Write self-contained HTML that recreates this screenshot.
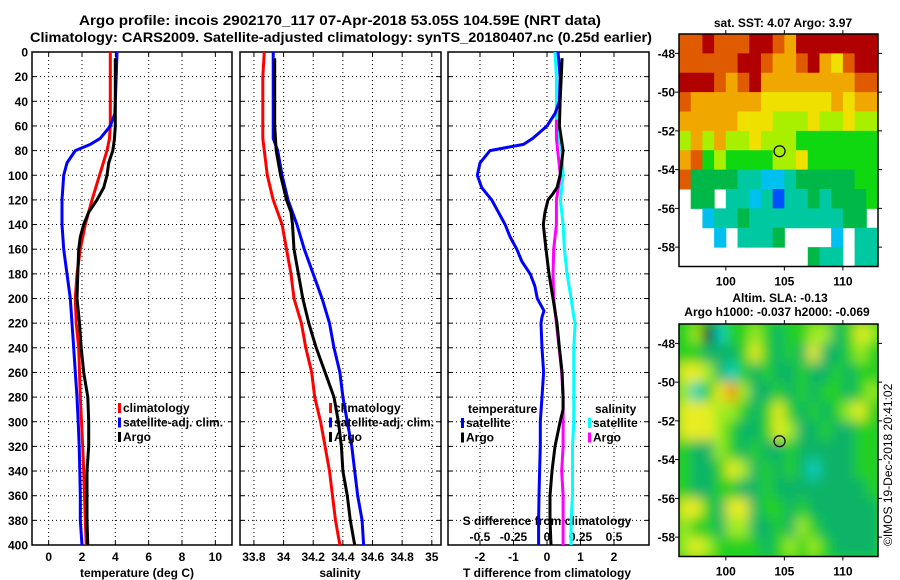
<!DOCTYPE html>
<html><head><meta charset="utf-8"><style>
html,body{margin:0;padding:0;background:#fff;}
svg{display:block;font-family:"Liberation Sans",Arial,sans-serif;font-weight:bold;}
</style></head><body>
<svg id="chart" xmlns="http://www.w3.org/2000/svg" width="900" height="580" viewBox="0 0 900 580">
<defs>
<clipPath id="clipMap1"><rect x="679" y="34" width="199" height="232"/></clipPath>
<clipPath id="clipMap2"><rect x="679" y="324" width="199" height="233"/></clipPath>
<filter id="blurSla" x="-0.2" y="-0.2" width="1.4" height="1.4"><feGaussianBlur stdDeviation="6"/></filter>
</defs>
<text x="340" y="25" font-size="14" text-anchor="middle" textLength="522" lengthAdjust="spacingAndGlyphs">Argo profile: incois 2902170_117 07-Apr-2018 53.05S 104.59E (NRT data)</text>
<text x="341" y="42" font-size="14" text-anchor="middle" textLength="622" lengthAdjust="spacingAndGlyphs">Climatology: CARS2009. Satellite-adjusted climatology: synTS_20180407.nc (0.25d earlier)</text>
<text x="783" y="27" font-size="12" text-anchor="middle">sat. SST: 4.07 Argo: 3.97</text>
<text x="780" y="302" font-size="12" text-anchor="middle">Altim. SLA: -0.13</text>
<text x="777" y="316" font-size="12" text-anchor="middle">Argo h1000: -0.037 h2000: -0.069</text>
<text transform="translate(892,546) rotate(-90)" font-size="12" font-weight="normal">©IMOS 19-Dec-2018 20:41:02</text>
<g id="layer"></g>
</svg>
<script>
// ---------- data ----------
const depthTicks = [0,20,40,60,80,100,120,140,160,180,200,220,240,260,280,300,320,340,360,380,400];
const tempTicks = [0,2,4,6,8,10];
const salTicks = [33.8,34,34.2,34.4,34.6,34.8,35];
const salTickLabels = ["33.8","34","34.2","34.4","34.6","34.8","35"];
const tdiffTicks = [-2,-1,0,1,2];
const sdiffTicks = [-0.5,-0.25,0,0.25,0.5];
const sdiffTickLabels = ["-0.5","-0.25","0","0.25","0.5"];
const latTicks = [-48,-50,-52,-54,-56,-58];
const lonTicks = [100,105,110];

const climDepth = [0,20,40,60,70,80,100,120,140,160,180,200,220,240,260,280,300,320,340,360,380,400];
const climTemp  = [3.7,3.7,3.7,3.7,3.65,3.5,3.05,2.6,2.2,1.9,1.7,1.6,1.65,1.8,1.85,1.9,1.97,2.04,2.1,2.15,2.2,2.25];
const climSal   = [33.87,33.86,33.86,33.86,33.86,33.87,33.89,33.93,33.99,34.02,34.05,34.07,34.12,34.15,34.19,34.21,34.25,34.28,34.31,34.33,34.35,34.38];

const satDepth = [0,20,40,50,60,70,75,80,90,100,120,140,160,180,200,220,240,260,280,300,320,340,360,380,400];
const satTemp  = [4.1,4.05,4.0,3.97,3.7,3.1,2.5,1.6,1.1,0.9,0.8,0.8,0.9,1.1,1.3,1.4,1.5,1.6,1.7,1.77,1.83,1.87,1.9,1.9,2.0];
const satSalDepth = [0,20,40,60,70,80,100,120,140,160,180,200,220,240,260,280,300,320,340,360,380,400];
const satSal   = [33.93,33.93,33.93,33.93,33.93,33.96,33.99,34.03,34.09,34.14,34.2,34.26,34.31,34.34,34.38,34.4,34.43,34.46,34.48,34.5,34.53,34.54];

const argoDepth = [5,60,70,80,90,100,110,120,130,140,150,160,180,200,220,240,260,280,300,320,340,360,380,400];
const argoTemp  = [4.0,4.0,3.95,3.85,3.6,3.5,3.3,2.9,2.4,2.1,1.9,1.8,1.75,1.7,1.85,1.95,2.1,2.35,2.4,2.4,2.3,2.3,2.3,2.35];
const argoSalDepth = [5,60,80,100,120,130,140,160,180,200,220,240,260,280,300,320,340,360,380,400];
const argoSal   = [33.94,33.94,33.95,33.98,34.02,34.05,34.06,34.07,34.1,34.13,34.17,34.22,34.28,34.34,34.37,34.39,34.4,34.43,34.45,34.48];

const dTsatDepth = [0,20,40,50,60,70,75,80,90,100,110,120,130,140,150,160,170,180,190,200,210,215,220,240,260,280,300,320,340,360,380,400];
const dTsat      = [0.33,0.39,0.37,0.24,0,-0.42,-0.7,-1.7,-2.0,-2.08,-1.95,-1.65,-1.45,-1.25,-1.1,-0.9,-0.75,-0.5,-0.36,-0.29,-0.09,-0.15,-0.18,-0.15,-0.1,-0.15,-0.2,-0.2,-0.22,-0.24,-0.25,-0.25];
const dTargoDepth = [5,40,60,80,100,110,115,120,130,140,160,180,200,220,240,260,280,290,300,320,340,360,380,400];
const dTargo      = [0.45,0.39,0.37,0.48,0.39,0.3,0.18,0.03,-0.06,-0.11,-0.03,0.06,0.18,0.3,0.37,0.45,0.48,0.48,0.39,0.24,0.15,0.09,0.09,0.12];
const dSsatDepth = [0,20,40,60,80,100,120,140,160,180,200,215,220,240,260,280,300,320,340,360,380,400];
const dSsat      = [0.06,0.07,0.07,0.07,0.11,0.12,0.1,0.12,0.13,0.15,0.18,0.2,0.21,0.2,0.2,0.2,0.2,0.19,0.19,0.19,0.18,0.18];
const dSargoDepth = [55,70,80,100,120,140,160,180,200,220,240,260,280,300,320,340,360,380,400];
const dSargo      = [0.07,0.07,0.08,0.1,0.07,0.07,0.05,0.045,0.05,0.07,0.09,0.11,0.12,0.12,0.12,0.11,0.12,0.12,0.12];

// SST map rows (1 deg cells, lat -47 → -59, lon 96 → 113)
const sstRows = [
"oorooorroarrrrrrr",
"ooooorroaaorayorr",
"rrroaoraaaaaaaaoo",
"oaaaaaayyyyyyayaa",
"aaaaayyylllyllyll",
"lalallylllggggggg",
"aoglggggllygggggg",
"oGGGGttcctGGGGGgg",
".GG.ttctbttGtGGGg",
"..cttGttttttttGG.",
"...c.tttG....c.tt",
"...........Gtt.tt"];
// SLA map rows
const slaRows = [
"gltcgglgTggllTgyl",
"ggTTTgygTgTyTTglg",
"yylTcgTgTTgTTgTgg",
"lcgyolTTgTgTggTgl",
"yyyllgTgygTgTglyg",
"yyylgTTgylTTgTTgg",
"gTTlgTgTTgTTTTTgg",
"gTTgylTgTgTcTTTgg",
"gTTggTTgTTTTTTTTg",
"yygTyyTggTgTTTTTT",
"lggTllTTgTlgTTTTT",
"lylggggTglglgTTTT"];
const floatLon = [104.59];
const floatLat = [-53.05];

// ---------- helpers ----------
const NS = "http://www.w3.org/2000/svg";
const layer = document.getElementById('layer');
function mk(tag, attrs, parent){ const e=document.createElementNS(NS,tag); for(const k in attrs) e.setAttribute(k,attrs[k]); (parent||layer).appendChild(e); return e; }
function txt(s,x,y,anchor,size,name,parent){ const t=mk('text',{x:x,y:y,'text-anchor':anchor,'font-size':size},parent); t.textContent=s;
  
  
  return t; }

const Y0=52, Y1=545;
function yD(d){ return Y0 + (d/400)*(Y1-Y0); }
function lin(d0,d1,r0,r1){ return v => r0 + (v-d0)/(d1-d0)*(r1-r0); }

const panels = [
  {name:'temperature-panel', x0:32, x1:232, f:lin(-1,11,32,232)},
  {name:'salinity-panel', x0:240, x1:441, f:lin(33.706,35.062,240,441)},
  {name:'difference-panel', x0:448, x1:649, f:lin(-2.955,3.045,448,649)}
];
const xS = lin(-0.73875,0.76125,448,649);

function frame(p, ticks, tickLabels){
  const g = mk('g',{});
  
  
  depthTicks.forEach(d=>{ const y=yD(d);
    if(d>0&&d<400){ const l=mk('line',{x1:p.x0,x2:p.x1,y1:y,y2:y,stroke:'#000','stroke-width':1,'stroke-dasharray':'1,3'},g);
        }
    mk('line',{x1:p.x0,x2:p.x0+4,y1:y,y2:y,stroke:'#000'},g);
    mk('line',{x1:p.x1-4,x2:p.x1,y1:y,y2:y,stroke:'#000'},g);
  });
  ticks.forEach((v,i)=>{ const x=p.f(v);
    const l=mk('line',{x1:x,x2:x,y1:Y0,y2:Y1,stroke:'#000','stroke-width':1,'stroke-dasharray':'1,3'},g);
     
    mk('line',{x1:x,x2:x,y1:Y1-4,y2:Y1,stroke:'#000'},g);
    mk('line',{x1:x,x2:x,y1:Y0,y2:Y0+4,stroke:'#000'},g);
    txt(tickLabels[i],x,561,'middle',12,'x-tick-label',g);
  });
  const r=mk('rect',{x:p.x0,y:Y0,width:p.x1-p.x0,height:Y1-Y0,fill:'none',stroke:'#000','stroke-width':1.5},g);
   
  return g;
}
function profile(depths, vals, fx, color, name){
  let dstr='';
  for(let i=0;i<depths.length;i++){ dstr += (i?'L':'M') + fx(vals[i]).toFixed(1) + ',' + yD(depths[i]).toFixed(1); }
  const p = mk('path',{d:dstr,fill:'none',stroke:color,'stroke-width':3,'stroke-linejoin':'round'});
  
  
}
function legend(items, x, y){
  items.forEach((it,i)=>{
    const yy=y+i*14.5;
    const m=mk('rect',{x:x,y:yy-9,width:3,height:10,fill:it[1]});
     
    txt(it[0],x+5,yy,'start',12,'legend-entry');
  });
}

depthTicks.forEach(d=>txt(String(d),28,yD(d)+4.5,'end',12,'depth-tick-label'));

frame(panels[0], tempTicks, tempTicks.map(String));
frame(panels[1], salTicks, salTickLabels);
frame(panels[2], tdiffTicks, tdiffTicks.map(String));
txt('temperature (deg C)',137,577,'middle',12,'temperature-axis-title');
txt('salinity',340,577,'middle',12,'salinity-axis-title');
txt('T difference from climatology',547,577,'middle',12,'t-difference-axis-title');
txt('S difference from climatology',547,525,'middle',12,'s-difference-axis-title');
sdiffTicks.forEach((v,i)=>txt(sdiffTickLabels[i],xS(v),541,'middle',12,'s-difference-tick-label'));

const fT=panels[0].f, fS=panels[1].f, fD=panels[2].f;
profile(climDepth, climTemp, fT, '#ff0000', 'climatology-temperature-line');
profile(satDepth, satTemp, fT, '#0000ff', 'satellite-temperature-line');
profile(argoDepth, argoTemp, fT, '#000000', 'argo-temperature-line');
profile(climDepth, climSal, fS, '#ff0000', 'climatology-salinity-line');
profile(satSalDepth, satSal, fS, '#0000ff', 'satellite-salinity-line');
profile(argoSalDepth, argoSal, fS, '#000000', 'argo-salinity-line');
profile(dSsatDepth, dSsat, xS, '#00ffff', 'satellite-s-difference-line');
profile(dSargoDepth, dSargo, xS, '#ff00ff', 'argo-s-difference-line');
profile(dTsatDepth, dTsat, fD, '#0000ff', 'satellite-t-difference-line');
profile(dTargoDepth, dTargo, fD, '#000000', 'argo-t-difference-line');

legend([['climatology','#ff0000'],['satellite-adj. clim.','#0000ff'],['Argo','#000000']],118,412);
legend([['climatology','#ff0000'],['satellite-adj. clim.','#0000ff'],['Argo','#000000']],329,412);
txt('temperature',468,413,'start',12,'t-legend-title');
legend([['satellite','#0000ff'],['Argo','#000000']],461,427);
txt('salinity',595,413,'start',12,'s-legend-title');
legend([['satellite','#00ffff'],['Argo','#ff00ff']],588,427);

const sstColors={r:'#b00000',o:'#e05a00',a:'#f0a800',y:'#f0e000',l:'#a8f000',g:'#10d810',G:'#00b848',t:'#00c8a0',c:'#00c0f0',b:'#0050ff'};
const slaColors={g:'#20d020',T:'#10b468',c:'#10d0c0',l:'#a0ec20',y:'#e8ec20',o:'#f09000'};
function drawMap(top, rows, colors, clipId, name, blur){
  const bot = top + 232.5;
  const fx = lin(96,113,679,878), fy = lin(-47,-59,top,bot);
  const g = mk('g',{'clip-path':'url(#'+clipId+')'});
  
  
  const cg = mk('g', blur?{filter:'url(#blurSla)'}:{}, g);
  if(blur) mk('rect',{x:660,y:top-20,width:240,height:273,fill:colors.g},cg);
  rows.forEach((row,ri)=>{
    for(let ci=0;ci<row.length;ci++){
      const c=row[ci]; if(c==='.') continue;
      const x=fx(96+ci), y=fy(-47-ri);
      const r=mk('rect',{x:x,y:y,width:fx(97+ci)-x+0.5,height:fy(-48-ri)-y+0.5,fill:colors[c]},cg);
      
      
    }
  });
  const mc=mk('circle',{cx:fx(floatLon[0]),cy:fy(floatLat[0]),r:5.5,fill:'none',stroke:'#000','stroke-width':1.2});
   
  const fr=mk('rect',{x:679,y:top,width:199,height:bot-top,fill:'none',stroke:'#000','stroke-width':1.5});
   
  latTicks.forEach(v=>{ const y=fy(v);
    mk('line',{x1:675,x2:679,y1:y,y2:y,stroke:'#000'}); mk('line',{x1:878,x2:882,y1:y,y2:y,stroke:'#000'});
    txt(String(v),675,y+4.5,'end',12,'latitude-tick-label'); });
  lonTicks.forEach(v=>{ const x=fx(v);
    mk('line',{x1:x,x2:x,y1:top-4,y2:top,stroke:'#000'}); mk('line',{x1:x,x2:x,y1:bot,y2:bot+4,stroke:'#000'});
    txt(String(v),x,bot+19,'middle',12,'longitude-tick-label'); });
}
drawMap(34, sstRows, sstColors, 'clipMap1', 'sst-map', false);
drawMap(324, slaRows, slaColors, 'clipMap2', 'sla-map', true);
</script>
</body></html>
